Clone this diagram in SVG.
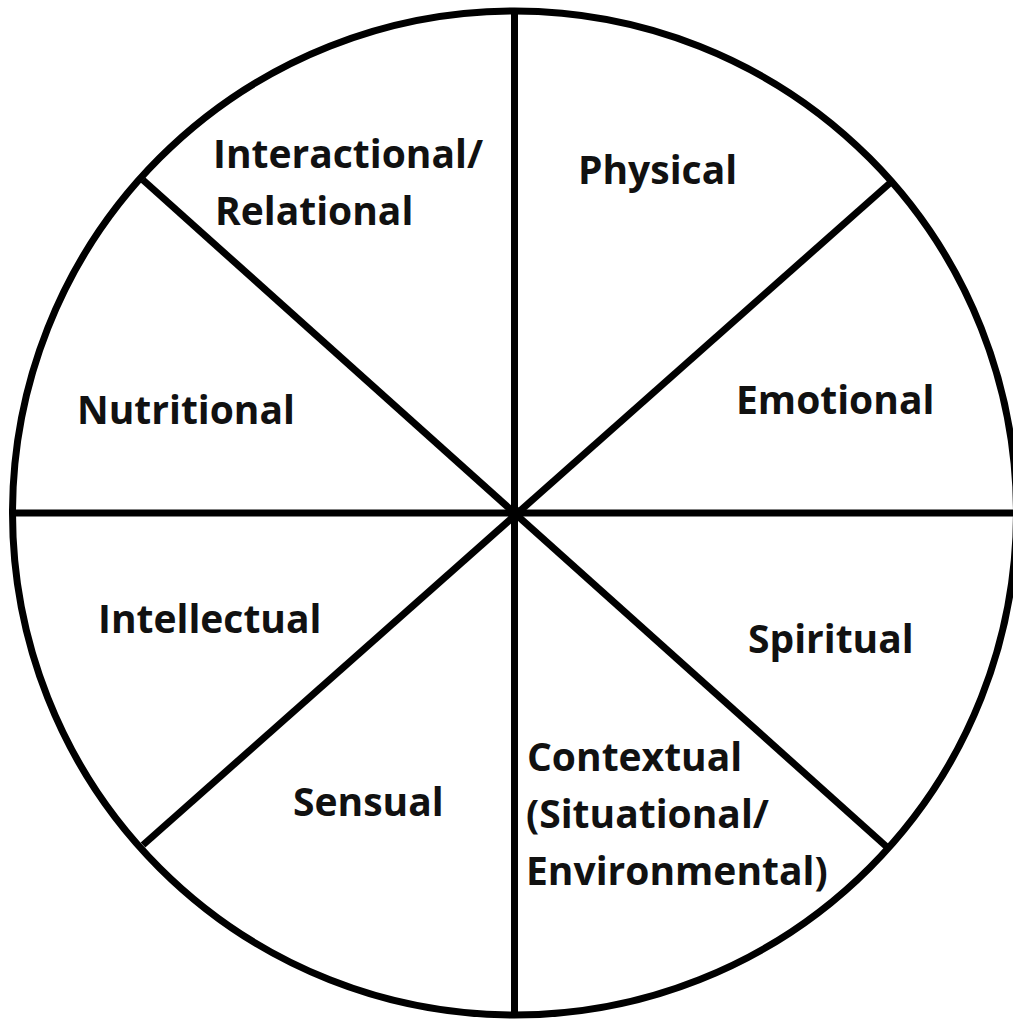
<svg xmlns="http://www.w3.org/2000/svg" width="1013" height="1019" viewBox="0 0 1013 1019">
  <style>
    .rim { fill: none; stroke: #000; stroke-width: 7; }
    .spoke { stroke: #000; stroke-width: 7; stroke-linecap: butt; }
    .label { font-family: "Open Sans", "Liberation Sans", sans-serif; font-weight: 700; font-size: 39px; fill: #111; }
  </style>
  <rect width="1013" height="1019" fill="#fff"/>

  <!-- wheel outline -->
  <g id="wheel">
    <circle class="rim" cx="514.5" cy="513" r="502"/>
  </g>

  <!-- dividing spokes -->
  <g id="connectors">
    <line class="spoke" x1="514.5" y1="11" x2="514.5" y2="1015"/>
    <line class="spoke" x1="12" y1="513" x2="1013" y2="513"/>
    <line class="spoke" x1="143" y1="180" x2="888" y2="848"/>
    <line class="spoke" x1="890" y1="183" x2="143" y2="845"/>
    <circle cx="514.5" cy="513" r="7" fill="#000"/>
  </g>

  <!-- segment labels -->
  <g id="interactional">
    <text class="label" x="213" y="168">Interactional/</text>
    <text class="label" x="215" y="225">Relational</text>
  </g>
  <g id="physical">
    <text class="label" x="578" y="184">Physical</text>
  </g>
  <g id="emotional">
    <text class="label" x="736" y="414">Emotional</text>
  </g>
  <g id="nutritional">
    <text class="label" x="77" y="424">Nutritional</text>
  </g>
  <g id="intellectual">
    <text class="label" x="98" y="633">Intellectual</text>
  </g>
  <g id="spiritual">
    <text class="label" x="748" y="653">Spiritual</text>
  </g>
  <g id="sensual">
    <text class="label" x="293" y="816">Sensual</text>
  </g>
  <g id="contextual">
    <text class="label" x="527" y="771">Contextual</text>
    <text class="label" x="526" y="828">(Situational/</text>
    <text class="label" x="526" y="885">Environmental)</text>
  </g>
</svg>
